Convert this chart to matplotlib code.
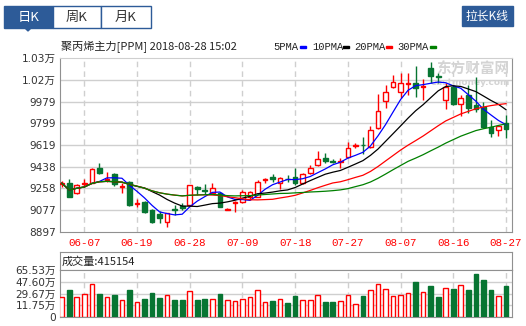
import numpy as np
import pandas as pd
import matplotlib
matplotlib.use('Agg')
import matplotlib.pyplot as plt
from matplotlib.patches import Rectangle, Polygon

plt.rcParams['font.family'] = ['DejaVu Sans', 'Noto Sans CJK SC']

# daily bars, 2018-06-04 .. 2018-08-27
dates = ['06-04', '06-05', '06-06', '06-07', '06-08', '06-11', '06-12', '06-13', '06-14', '06-15',
         '06-19', '06-20', '06-21', '06-22', '06-25', '06-26', '06-27', '06-28', '06-29', '07-02',
         '07-03', '07-04', '07-05', '07-06', '07-09', '07-10', '07-11', '07-12', '07-13', '07-16',
         '07-17', '07-18', '07-19', '07-20', '07-23', '07-24', '07-25', '07-26', '07-27', '07-30',
         '07-31', '08-01', '08-02', '08-03', '08-06', '08-07', '08-08', '08-09', '08-10', '08-13',
         '08-14', '08-15', '08-16', '08-17', '08-20', '08-21', '08-22', '08-23', '08-24', '08-27']
opens = [9296, 9301, 9218, 9296, 9306, 9430, 9330, 9375, 9270, 9314,
         9132, 9148, 9079, 9050, 8982, 9090, 9115, 9121, 9273, 9243,
         9223, 9218, 9080, 9138, 9148, 9185, 9190, 9330, 9355, 9301,
         9340, 9355, 9301, 9389, 9452, 9513, 9486, 9476, 9521, 9608,
         9622, 9604, 9757, 9985, 10096, 10060, 10126, 10130, 10098, 10254,
         10188, 9991, 10097, 9958, 10033, 9950, 9936, 9770, 9742, 9798]
highs = [9320, 9336, 9292, 9334, 9425, 9466, 9392, 9383, 9300, 9322,
         9168, 9156, 9088, 9068, 9055, 9121, 9135, 9287, 9281, 9292,
         9306, 9226, 9093, 9150, 9245, 9240, 9328, 9342, 9378, 9350,
         9370, 9425, 9386, 9452, 9568, 9554, 9500, 9513, 9646, 9634,
         9687, 9778, 10040, 10116, 10198, 10218, 10218, 10273, 10163, 10309,
         10213, 10130, 10116, 10033, 10116, 10185, 9977, 9825, 9784, 9867]
lows = [9273, 9185, 9210, 9273, 9301, 9375, 9314, 9281, 9222, 9115,
        9107, 9057, 8969, 8970, 8936, 9038, 9079, 9121, 9204, 9210,
        9212, 9102, 9076, 9065, 9135, 9160, 9185, 9300, 9314, 9251,
        9314, 9287, 9292, 9378, 9447, 9471, 9466, 9430, 9513, 9590,
        9541, 9591, 9751, 9922, 10088, 10005, 10033, 10019, 9991, 10130,
        10130, 9914, 9950, 9859, 9886, 9894, 9757, 9682, 9693, 9674]
closes = [9301, 9190, 9287, 9302, 9417, 9383, 9338, 9292, 9282, 9121,
          9136, 9065, 8982, 9013, 9052, 9082, 9093, 9287, 9251, 9237,
          9259, 9107, 9087, 9145, 9231, 9225, 9314, 9340, 9334, 9342,
          9333, 9306, 9378, 9425, 9500, 9488, 9480, 9482, 9596, 9615,
          9614, 9743, 9900, 10060, 10138, 10130, 10132, 10088, 10104, 10193,
          10182, 10102, 9958, 10005, 9927, 9914, 9770, 9720, 9776, 9753]
# volume, in 10k lots
volumes = [23.7, 34.8, 23.7, 28.2, 44.9, 28.7, 24.6, 27.2, 19.1, 34.8,
           16.1, 21.1, 30.2, 22.6, 26.7, 19.6, 19.6, 32.8, 19.6, 21.1,
           21.1, 28.7, 19.1, 17.6, 20.6, 23.7, 34.3, 16.6, 18.1, 20.6,
           15.5, 25.6, 19.6, 19.6, 27.2, 17.0, 17.0, 18.1, 27.2, 13.5,
           25.6, 34.8, 44.9, 35.8, 25.6, 27.2, 29.7, 46.9, 31.3, 40.8,
           23.7, 37.3, 36.3, 41.9, 34.8, 59.0, 49.9, 34.8, 25.2, 41.5154]

label_dates = ['06-07', '06-19', '06-28', '07-09', '07-18', '07-27', '08-07', '08-16', '08-27']
price_ticks = [8897, 9077, 9258, 9438, 9618, 9798, 9978.5, 10159, 10339]
price_labels = ['8897', '9077', '9258', '9438', '9619', '9799', '9979', '1.02万', '1.03万']
vol_ticks = [-6.19, 11.75, 29.67, 47.60, 65.53]
vol_labels = ['0', '11.75万', '29.67万', '47.60万', '65.53万']
ma_windows = [5, 10, 20, 30]
ma_colors = ['#0000ff', '#000000', '#ff0000', '#008000']

RED = '#ff0000'
GREEN = '#077532'
GRID = '#cfcfcf'
FRAME = '#909090'
BLUE = '#2d5b98'

W, H = 526, 326
fig = plt.figure(figsize=(W / 100, H / 100), dpi=100)


def box(x0, y0, x1, y1):
    # pixel box (top-left origin) -> figure fraction rect
    return (x0 / W, 1 - y1 / H, (x1 - x0) / W, (y1 - y0) / H)


x = np.arange(len(dates))
o = np.array(opens, float)
c = np.array(closes, float)
up = c >= o
xlim = (-0.23, 59.8)
label_idx = [dates.index(d) for d in label_dates]

# ---- price panel ----
ax = fig.add_axes(box(60, 58, 512, 232))
ax.set_xlim(*xlim)
ax.set_ylim(price_ticks[0], price_ticks[-1])
for t in price_ticks[1:-1]:
    ax.axhline(t, color=GRID, lw=1, zorder=0)
for i in label_idx:
    ax.axvline(i, color=GRID, lw=1, ls=(0, (4, 3)), zorder=0)

ax.vlines(x, lows, highs, colors=np.where(up, RED, GREEN), lw=1, zorder=2)
body_bottom = np.minimum(o, c)
body_h = np.maximum(np.abs(c - o), 0.1)
ax.bar(x[up], body_h[up], bottom=body_bottom[up], width=0.62,
       facecolor='white', edgecolor=RED, lw=1, zorder=3)
ax.bar(x[~up], body_h[~up], bottom=body_bottom[~up], width=0.62,
       facecolor=GREEN, edgecolor=GREEN, lw=1, zorder=3)

close_s = pd.Series(closes)
for n, col in zip(ma_windows, ma_colors):
    ax.plot(x, close_s.rolling(n, min_periods=1).mean(), color=col, lw=0.9, zorder=4)

ax.set_yticks(price_ticks)
ax.set_yticklabels(price_labels)
ax.set_xticks(label_idx)
ax.set_xticklabels(label_dates, color=RED, family=['Liberation Mono'], fontsize=7.8)
ax.tick_params(axis='y', length=0, pad=3, labelsize=7.6, labelcolor='#333333')
ax.tick_params(axis='x', length=0, pad=4)
for s in ax.spines.values():
    s.set_color(FRAME)
ax.spines['top'].set_color(GRID)

# watermark
ax.text(0.995, 0.985, '东方财富网', transform=ax.transAxes, ha='right', va='top',
        fontsize=10.5, color='#d4d4d4', family=['Noto Sans CJK SC'], fontweight='bold', zorder=1)
ax.text(0.995, 0.885, 'eastmoney.com', transform=ax.transAxes, ha='right', va='top',
        fontsize=6.5, color='#d4d4d4', fontweight='bold', zorder=1)

# title and legend
fig.text(61 / W, 1 - 46.5 / H, '聚丙烯主力[PPM] 2018-08-28 15:02', ha='left', va='center',
         fontsize=8, color='#222222', family=['Noto Sans CJK SC'])
leg_x = [273, 312, 354, 397]
mark_x = [300, 343, 386, 430]
for n, col, tx, mx in zip(ma_windows, ma_colors, leg_x, mark_x):
    fig.text(tx / W, 1 - 46.5 / H, f'{n}PMA', ha='left', va='center', fontsize=7.6,
             color='#222222', family=['Liberation Mono'])
    fig.patches.append(Rectangle((mx / W, 1 - 48 / H), 6 / W, 2.5 / H,
                                 transform=fig.transFigure, color=col))

# ---- volume panel ----
hdr = fig.add_axes(box(60, 252, 512, 270))
hdr.set_xticks([])
hdr.set_yticks([])
for s in hdr.spines.values():
    s.set_color(FRAME)
hdr.text(0.003, 0.45, f'成交量:{int(round(volumes[-1] * 10000))}', transform=hdr.transAxes,
         ha='left', va='center', fontsize=8, color='#222222', family=['Noto Sans CJK SC'])

vax = fig.add_axes(box(60, 270, 512, 317))
vax.set_xlim(*xlim)
vax.set_ylim(vol_ticks[0], vol_ticks[-1])
for t in vol_ticks[1:-1]:
    vax.axhline(t, color=GRID, lw=1, zorder=0)
for i in label_idx:
    vax.axvline(i, color=GRID, lw=1, ls=(0, (4, 3)), zorder=0)
v = np.array(volumes)
vbase = vol_ticks[0]
vax.bar(x[up], v[up] - vbase, bottom=vbase, width=0.62, facecolor='white',
        edgecolor=RED, lw=1, zorder=3)
vax.bar(x[~up], v[~up] - vbase, bottom=vbase, width=0.62, facecolor=GREEN,
        edgecolor=GREEN, lw=1, zorder=3)
vax.set_xticks([])
vax.set_yticks(vol_ticks)
vax.set_yticklabels(vol_labels)
vax.tick_params(axis='y', length=0, pad=3, labelsize=7.6, labelcolor='#333333')
for s in vax.spines.values():
    s.set_color(FRAME)

# ---- top tabs ----
tabs = ['日K', '周K', '月K']
tab_x = [4, 53, 101, 151]
for k, name in enumerate(tabs):
    active = k == 0
    fig.patches.append(Rectangle((tab_x[k] / W, 1 - 28 / H), (tab_x[k + 1] - tab_x[k]) / W, 22 / H,
                                 transform=fig.transFigure, facecolor=BLUE if active else 'white',
                                 edgecolor=BLUE, lw=1))
    fig.text((tab_x[k] + tab_x[k + 1]) / 2 / W, 1 - 17 / H, name, ha='center', va='center',
             fontsize=9.5, color='white' if active else '#333333', family=['Noto Sans CJK SC'])
fig.patches.append(Polygon([(25 / W, 1 - 28 / H), (31 / W, 1 - 28 / H), (28 / W, 1 - 31 / H)],
                           closed=True, transform=fig.transFigure, color=BLUE))
fig.patches.append(Rectangle((462 / W, 1 - 26 / H), 51 / W, 20 / H, transform=fig.transFigure,
                             facecolor=BLUE, edgecolor=BLUE))
fig.text(487.5 / W, 1 - 16 / H, '拉长K线', ha='center', va='center', fontsize=8.5,
         color='white', family=['Noto Sans CJK SC'])

fig.savefig('out.png', dpi=100)
